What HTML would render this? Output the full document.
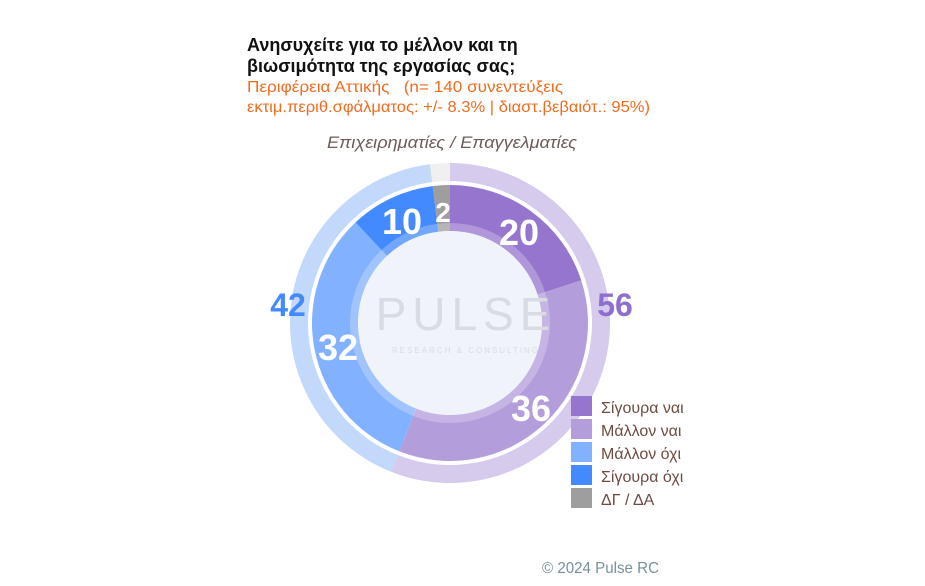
<!DOCTYPE html>
<html><head><meta charset="utf-8"><style>
body{margin:0;background:#fff;width:925px;height:586px;overflow:hidden;font-family:"Liberation Sans Narrow","Liberation Sans","Noto Sans CJK SC",sans-serif}
svg{position:absolute;left:0;top:0}
</style></head><body>
<svg id="s" width="925" height="586" xmlns="http://www.w3.org/2000/svg">
<text x="247" y="51" font-size="18" font-weight="bold" fill="#111" font-family="Liberation Sans Narrow, Liberation Sans, sans-serif">Ανησυχείτε για το μέλλον και τη</text>
<text x="247" y="72" font-size="18" font-weight="bold" fill="#111" font-family="Liberation Sans Narrow, Liberation Sans, sans-serif">βιωσιμότητα της εργασίας σας;</text>
<text x="247" y="92" font-size="16" fill="#ef6c1f" font-family="Liberation Sans Narrow, Liberation Sans, sans-serif" xml:space="preserve" textLength="316" lengthAdjust="spacingAndGlyphs">Περιφέρεια Αττικής   (n= 140 συνεντεύξεις</text>
<text x="247" y="112" font-size="16" fill="#ef6c1f" font-family="Liberation Sans Narrow, Liberation Sans, sans-serif" textLength="403" lengthAdjust="spacingAndGlyphs">εκτιμ.περιθ.σφάλματος: +/- 8.3% | διαστ.βεβαιότ.: 95%)</text>
<text x="327" y="148" font-size="17" font-style="italic" fill="#6d5c58" font-family="Liberation Sans Narrow, Liberation Sans, sans-serif" textLength="250" lengthAdjust="spacingAndGlyphs">Επιχειρηματίες / Επαγγελματίες</text>
<g id="g"></g>
<circle cx="450" cy="323" r="92" fill="#f0f3fa"/>
<text x="466" y="330" font-size="46" fill="#d8dbe2" text-anchor="middle" font-family="Liberation Sans, sans-serif" letter-spacing="6">PULSE</text>
<text x="466" y="353" font-size="8" fill="#d8dbe2" text-anchor="middle" font-family="Liberation Sans, sans-serif" letter-spacing="2">RESEARCH &amp; CONSULTING</text>
<g font-family="Liberation Sans Narrow, Liberation Sans, sans-serif" font-weight="bold" text-anchor="middle" fill="#fff" font-size="36">
<text x="519" y="245">20</text>
<text x="531" y="421">36</text>
<text x="338" y="360">32</text>
<text x="402" y="234">10</text>
<text x="443" y="222" font-size="28">2</text>
</g>
<g font-family="Liberation Sans Narrow, Liberation Sans, sans-serif" font-weight="bold" text-anchor="middle" font-size="32">
<text x="288" y="316" fill="#448aff">42</text>
<text x="615" y="316" fill="#8e6fd0">56</text>
</g>
<g font-family="Liberation Sans Narrow, Liberation Sans, sans-serif" font-size="16" fill="#6d4c41">
<rect x="571" y="396" width="21" height="20" fill="#9575cd"/><text x="601" y="413">Σίγουρα ναι</text>
<rect x="571" y="419" width="21" height="20" fill="#b39ddb"/><text x="601" y="436">Μάλλον ναι</text>
<rect x="571" y="442" width="21" height="20" fill="#82b1ff"/><text x="601" y="459">Μάλλον όχι</text>
<rect x="571" y="465" width="21" height="20" fill="#448aff"/><text x="601" y="482">Σίγουρα όχι</text>
<rect x="571" y="488" width="21" height="20" fill="#9e9e9e"/><text x="601" y="505">ΔΓ / ΔΑ</text>
</g>
<text x="542" y="573" font-size="16" fill="#78909c" font-family="Liberation Sans Narrow, Liberation Sans, sans-serif" textLength="117" lengthAdjust="spacingAndGlyphs">© 2024 Pulse RC</text>
</svg>
<script>
var cx=450,cy=323,g=document.getElementById('g');
function arc(a0,a1,r0,r1,c){
 function p(a,r){var t=(a-90)*Math.PI/180;return (cx+r*Math.cos(t)).toFixed(2)+' '+(cy+r*Math.sin(t)).toFixed(2);}
 var l=(a1-a0)>180?1:0;
 var d='M'+p(a0,r1)+' A'+r1+' '+r1+' 0 '+l+' 1 '+p(a1,r1)+' L'+p(a1,r0)+' A'+r0+' '+r0+' 0 '+l+' 0 '+p(a0,r0)+'Z';
 var e=document.createElementNS('http://www.w3.org/2000/svg','path');e.setAttribute('d',d);e.setAttribute('fill',c);g.appendChild(e);
}
var outer=[[56,'#d6caed'],[42,'#c2d9fc'],[2,'#f0f0f0']];
var inner=[[20,'#9575cd'],[36,'#b39ddb'],[32,'#82b1ff'],[10,'#448aff'],[2,'#9e9e9e']];
var a=0;outer.forEach(function(s){var b=a+s[0]*3.6;arc(a,b,142,160,s[1]);a=b;});
a=0;inner.forEach(function(s){var b=a+s[0]*3.6;arc(a,b,92,138,s[1]);a=b;});
var e=document.createElementNS('http://www.w3.org/2000/svg','circle');
e.setAttribute('cx',cx);e.setAttribute('cy',cy);e.setAttribute('r',96);e.setAttribute('fill','none');e.setAttribute('stroke','rgba(255,255,255,0.25)');e.setAttribute('stroke-width','8');g.appendChild(e);
</script>
</body></html>
